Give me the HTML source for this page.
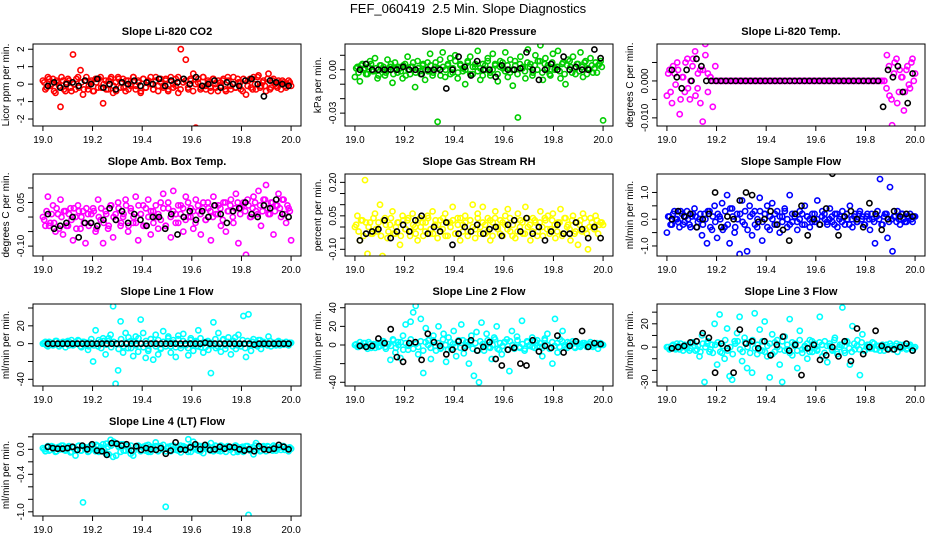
<!DOCTYPE html>
<html><head><meta charset="utf-8"><style>
html,body{margin:0;padding:0;background:#fff}
svg{display:block;font-family:"Liberation Sans",Arial,sans-serif}
</style></head><body>
<svg id="fig" width="936" height="540" viewBox="0 0 936 540">
<text x="468" y="13" text-anchor="middle" font-size="13">FEF_060419&#160; 2.5 Min. Slope Diagnostics</text>
</svg>
<script>
const xTicks=[19.0,19.2,19.4,19.6,19.8,20.0];
const xRange=[19.0,20.0];

const co2Main=[0.2,-0.3,0.4,-0.1,0.3,-0.5,0.1,-1.3,0.2,-0.4,0.3,-0.2,1.7,-0.3,0.4,0.8,-0.6,0.2,-0.3,0.1,-0.4,0.3,-0.2,0.4,-1.1,0.2,-0.3,0.3,-0.5,0.1,0.4,-0.2,0.3,-0.4,0.2,-0.1,0.4,-0.3,0.2,-0.5,0.3,-0.2,0.1,0.4,-0.3,0.2,-0.4,0.3,-0.1,0.2,-0.3,0.4,-0.2,0.3,-0.5,2.0,0.1,1.4,-0.3,0.2,0.6,-2.5,0.3,-0.2,0.4,-0.3,0.1,-0.4,0.3,-0.2,0.2,-0.1,0.3,-0.4,0.2,-0.3,0.4,-0.2,0.1,-0.3,0.3,-0.6,0.2,-0.2,0.4,-0.3,0.5,-0.1,0.2,-0.4,0.6,-0.2,0.3,-0.1,0.2,-0.3,0.1,-0.2,0.2,-0.1];
const co2Band=[0.1,-0.2,0.3,0.0,-0.4,0.2,-0.1,0.4,-0.3,0.1,0.2,-0.4,0.0,0.3,-0.2,0.1,-0.3,0.4,-0.1,0.2,-0.4,0.1,0.3,-0.2,0.0,-0.3,0.2,0.4,-0.1,-0.4,0.3,0.1,-0.2,0.2,-0.3,0.0,0.4,-0.1,0.1,-0.4,0.3,-0.2,0.2,0.0,-0.3,0.4,-0.1,0.1,-0.2,0.3,-0.4,0.2,0.0,-0.1,0.4,-0.3,0.1,0.2,-0.2,0.3,-0.4,0.0,0.1,-0.3,0.4,-0.1,0.2,-0.2,0.3,0.0,-0.4,0.1,0.2,-0.3,0.4,-0.1,0.0,-0.2,0.3,0.1,-0.4,0.2,-0.1,0.3,-0.3,0.0,0.4,-0.2,0.1,-0.1,0.3,-0.3,0.2,0.0,-0.2,0.1,0.2,-0.1,0.0,0.1];
const co2Ref=[-0.1,0.1,-0.2,0,0.1,-0.1,0.2,0,0.3,-0.2,0,-0.3,0.1,0,0.2,-0.1,0.1,0,0.3,-0.1,0.2,0.1,0.3,0,0.4,-0.1,0,0.2,-0.2,0.1,0,-0.1,0.2,0.3,0,-0.7,0.2,0.1,0,-0.1];

const presMain=[-0.005,0.002,-0.008,0.004,0.001,-0.003,0.006,-0.001,0.008,-0.006,0.003,0.000,-0.004,0.007,0.002,-0.009,0.005,-0.002,0.001,-0.006,0.004,0.009,-0.003,0.002,-0.012,0.006,-0.001,0.003,-0.007,0.005,0.011,-0.004,0.002,-0.036,0.007,0.012,-0.005,0.003,0.008,-0.002,0.010,-0.006,0.004,0.001,-0.010,0.006,0.009,-0.003,0.002,0.013,-0.007,0.004,0.000,0.008,-0.004,0.011,0.003,-0.008,0.006,0.001,0.012,-0.005,0.007,-0.011,0.003,-0.033,0.009,0.002,-0.006,0.014,0.004,-0.002,0.010,0.006,0.017,-0.007,0.008,0.003,-0.004,0.011,0.001,0.013,-0.006,0.005,-0.010,0.007,0.002,0.009,-0.003,0.004,0.012,-0.005,0.006,0.001,0.008,-0.002,0.005,0.003,0.006,-0.035];
const presBand=[0.001,-0.002,0.003,0.000,-0.003,0.002,0.004,-0.001,0.001,-0.004,0.003,0.002,-0.002,0.000,0.004,-0.003,0.001,0.002,-0.001,0.003,-0.004,0.000,0.002,0.005,-0.002,0.001,-0.003,0.004,0.000,-0.001,0.003,-0.002,0.005,0.001,-0.004,0.002,0.000,0.004,-0.003,0.001,0.006,-0.002,0.003,-0.001,0.000,0.005,-0.003,0.002,0.004,-0.001,0.001,-0.004,0.003,0.006,-0.002,0.000,0.004,-0.003,0.002,0.005,-0.001,0.003,-0.002,0.000,0.006,-0.003,0.004,0.001,-0.001,0.005,0.002,-0.004,0.003,0.000,0.006,-0.002,0.004,0.001,-0.003,0.005,0.000,0.002,-0.001,0.004,-0.003,0.003,0.006,-0.002,0.001,0.004,-0.001,0.002,0.005,-0.003,0.000,0.003,0.001,-0.002,0.004,0.002];
const presRef=[0,0.004,0,0,0,0,0,0.002,0,0,-0.003,0,0,0,-0.013,0,0.009,0.002,-0.004,0.006,0,0,-0.005,0.003,0,0,0.001,0.012,0,-0.007,0,0.004,0,0.009,0,0.002,0,0,0.014,0.008];

const tempMain=[-0.004,0.003,-0.006,0.002,0.005,-0.009,0.001,-0.003,0.006,-0.005,0.004,0.008,-0.002,0.003,-0.011,0.010,0.002,0.001,
0,0,0,0,0,0,0,0,0,0,0,0,0,0,0,0,0,0,0,0,0,0,0,0,0,0,0,0,0,0,0,0,0,0,0,0,0,0,0,0,0,0,0,0,0,0,0,0,0,0,0,0,0,0,0,0,0,0,0,0,0,0,0,0,0,0,0,0,
0.007,-0.004,-0.012,0.005,-0.006,0.003,0.001,-0.003,0.004,-0.002,0.006,0.002];
const tempBand=[0.002,-0.003,0.004,-0.001,0.003,-0.005,0.001,0.005,-0.002,0.000,0.006,-0.004,0.002,-0.006,0.003,0.007,-0.003,0.001,-0.007,0.004,0,0,0,0,0,0,0,0,0,0,0,0,0,0,0,0,0,0,0,0,0,0,0,0,0,0,0,0,0,0,0,0,0,0,0,0,0,0,0,0,0,0,0,0,0,0,0,0,0,0,0,0,0,0,0,0,0,0,0,0,0,0,0,0,0,0,0,0,-0.002,0.004,-0.005,0.002,0.006,-0.003,0.001,-0.008,0.003,-0.001,0.005,0.000];
const tempRef=[0.003,0.001,-0.002,0.003,0.000,0.006,0.004,0.000,0,0,0,0,0,0,0,0,0,0,0,0,0,0,0,0,0,0,0,0,0,0,0,0,0,0,0,0,0,0,0,0,0,0,0,-0.007,0.003,0.001,0.004,-0.003,-0.006,0.002];

const ambMain=[0.00,-0.03,0.07,-0.02,0.04,-0.05,0.01,0.06,-0.06,0.02,-0.03,0.03,-0.08,0.00,0.04,-0.04,0.02,-0.09,0.01,-0.02,0.03,-0.05,0.06,-0.01,-0.09,0.02,-0.04,0.04,-0.07,0.01,0.05,-0.03,0.00,0.06,-0.05,0.03,-0.02,0.07,-0.08,0.01,0.04,-0.03,0.06,-0.06,0.02,0.00,-0.04,0.05,0.08,-0.03,0.03,-0.07,0.09,0.01,-0.02,0.04,-0.05,0.07,0.00,0.03,-0.04,0.06,0.02,-0.06,0.05,-0.01,0.03,-0.08,0.07,0.01,0.04,-0.03,0.05,-0.05,0.02,0.06,-0.02,0.08,-0.09,0.03,0.05,-0.13,0.04,0.00,0.07,0.02,0.09,-0.03,0.06,0.11,0.01,0.05,-0.06,0.04,0.08,0.00,0.06,-0.02,0.03,-0.08];
const ambBand=[-0.01,0.02,-0.03,0.01,-0.02,0.03,-0.04,0.00,0.02,-0.03,0.01,-0.01,0.03,-0.04,0.02,0.00,-0.02,0.03,-0.03,0.01,0.02,-0.04,0.00,0.03,-0.02,0.01,-0.03,0.04,0.00,-0.01,0.03,-0.02,0.01,0.04,-0.03,0.02,0.00,-0.02,0.04,0.01,-0.03,0.03,0.00,0.02,-0.02,0.04,0.01,-0.01,0.03,-0.03,0.05,0.00,0.02,-0.02,0.04,0.01,0.03,-0.01,0.05,0.00,0.02,-0.02,0.04,0.01,0.03,-0.01,0.05,0.02,0.00,0.04,0.01,0.03,-0.01,0.05,0.02,0.04,0.00,0.03,0.05,0.01,0.04,0.02,0.06,0.00,0.03,0.05,0.01,0.04,0.02,0.06,0.03,0.01,0.05,0.02,0.04,0.03,0.06,0.01,0.04,0.02];
const ambRef=[0.01,-0.04,-0.03,-0.02,0.00,-0.07,-0.02,-0.02,-0.03,-0.01,0.03,-0.01,0.02,-0.02,0.01,-0.01,-0.03,0.00,0.00,-0.04,0.01,-0.06,0.00,0.02,-0.01,0.02,0.00,0.04,0.01,-0.02,0.02,0.03,0.05,0.01,0.00,0.04,0.03,0.06,0.01,0.00];

const rhMain=[0.00,0.05,-0.06,0.03,0.21,-0.12,0.02,-0.03,0.06,-0.02,0.10,-0.13,0.04,-0.05,0.01,0.07,-0.03,0.02,-0.08,0.05,-0.01,0.03,-0.04,0.06,0.00,-0.06,0.04,0.02,-0.02,0.05,-0.03,0.07,0.01,-0.05,0.03,-0.01,0.06,-0.04,0.02,0.09,-0.03,0.04,-0.06,0.01,0.05,-0.02,0.03,0.10,-0.05,0.06,0.00,0.09,-0.03,0.04,-0.06,0.02,0.07,-0.01,0.03,-0.04,0.05,0.08,-0.02,0.01,-0.05,0.06,0.03,-0.03,0.09,0.00,-0.06,0.04,0.02,-0.02,0.07,-0.04,0.03,0.05,-0.01,0.06,-0.05,0.02,0.08,-0.03,0.04,0.01,-0.06,0.05,-0.02,-0.08,0.03,0.06,-0.01,-0.10,0.04,0.00,0.05,-0.03,0.02,0.01];
const rhBand=[0.01,-0.02,0.03,-0.04,0.02,0.00,-0.03,0.04,-0.01,0.02,-0.04,0.03,0.01,-0.02,0.04,-0.03,0.00,0.02,-0.04,0.03,-0.01,0.04,-0.02,0.01,-0.03,0.03,0.00,-0.04,0.02,0.04,-0.01,-0.03,0.03,0.01,-0.02,0.04,-0.04,0.02,0.00,0.03,-0.03,0.01,0.04,-0.02,0.02,-0.04,0.03,0.00,-0.01,0.04,-0.03,0.02,0.01,-0.02,0.03,-0.04,0.04,0.00,-0.03,0.02,0.01,-0.01,0.04,-0.04,0.03,-0.02,0.00,0.02,-0.03,0.04,0.01,-0.02,0.03,-0.04,0.02,0.00,0.04,-0.01,-0.03,0.03,0.01,-0.02,0.02,-0.04,0.04,0.00,-0.01,0.03,-0.03,0.02,0.01,-0.02,0.04,-0.03,0.00,0.02,-0.01,0.03,0.01,0.02];
const rhRef=[-0.06,-0.03,-0.02,-0.01,0.03,-0.05,-0.02,0.01,-0.02,0.03,0.05,-0.03,0.00,-0.02,0.02,-0.08,-0.03,0.00,-0.02,0.01,-0.03,-0.01,0.00,-0.04,0.01,0.03,-0.02,0.04,-0.03,0.00,-0.06,-0.02,0.01,-0.03,-0.03,0.02,-0.01,-0.05,0.00,-0.05];

const flowMain=[-0.5,0.1,-0.2,0.3,0.0,-0.3,0.2,-0.1,0.3,-0.2,0.1,0.4,-0.3,0.0,-0.6,0.2,-0.9,0.3,-0.4,0.5,-0.7,0.1,0.6,-0.3,0.9,-0.9,0.4,-0.5,0.2,-1.3,0.7,-0.2,-1.2,0.5,-0.6,0.3,-0.3,0.8,-0.8,0.2,0.5,-0.4,0.6,-0.2,0.3,-0.5,0.1,0.4,-0.3,0.9,-0.1,0.2,-0.4,0.3,-0.2,0.5,0.1,-0.3,0.2,-0.1,0.7,-0.2,0.3,0.0,-0.2,0.4,-0.1,0.2,-0.3,0.1,0.3,-0.2,0.0,0.5,-0.3,0.2,-0.1,0.3,0.1,-0.2,0.2,-0.4,0.0,-0.9,0.3,1.5,-0.2,0.2,-0.7,1.2,-1.2,0.1,0.3,-0.2,0.2,-0.1,0.1,0.2,-0.1,0.1];
const flowBand=[0.1,-0.2,0.2,0.0,-0.1,0.3,-0.2,0.1,0.0,-0.3,0.2,0.1,-0.1,0.2,-0.2,0.0,0.3,-0.3,0.1,-0.1,0.2,0.0,-0.4,0.3,-0.2,0.4,0.1,-0.3,0.0,0.2,-0.1,0.3,-0.4,0.1,0.2,-0.2,0.0,0.3,-0.1,0.2,-0.3,0.1,0.0,0.2,-0.2,0.1,-0.1,0.3,0.0,-0.2,0.2,0.1,-0.1,0.0,0.2,-0.2,0.1,0.0,-0.1,0.2,0.0,-0.2,0.1,0.2,-0.1,0.0,0.1,-0.2,0.2,0.0,-0.1,0.1,0.2,-0.2,0.0,0.1,-0.1,0.2,0.0,-0.2,0.1,0.0,0.2,-0.1,0.1,0.0,-0.2,0.1,0.2,-0.1,0.0,0.1,-0.1,0.0,0.2,0.0,-0.1,0.1,0.0,0.1];
const flowRef=[0.0,0.3,0.1,0.2,-0.3,0.0,0.2,1.0,-0.3,0.1,0.0,0.7,1.0,0.9,-0.1,0.0,0.3,-0.2,-0.4,-0.8,0.2,0.5,-0.6,0.0,-0.2,0.4,1.7,-0.6,0.1,0.3,0.0,-0.3,0.6,0.2,-0.4,0.0,0.3,0.1,0.2,0.1];

const l1Main=[0,2,-3,1,-2,3,0,-1,2,-4,3,1,-2,0,4,-3,2,-1,-7,1,-20,15,-3,2,6,-12,3,10,42,-45,-30,25,-10,12,-5,3,-14,8,-9,27,12,-16,-8,5,-18,10,-12,-6,14,-3,8,-10,4,-15,9,-5,11,-2,-13,6,-8,3,15,-4,-10,2,-7,-33,24,-5,12,-9,5,-2,7,-12,3,-6,10,-3,31,-15,33,-8,5,-2,4,-6,2,-1,8,-3,1,-2,3,0,-1,2,-2,1];
const l1Band=[1,-2,2,0,-1,3,-3,1,0,2,-2,4,-1,0,3,-4,2,1,-3,5,-2,0,4,-5,3,-1,6,-4,2,0,-6,5,-3,1,7,-5,2,-2,6,0,-4,3,-6,5,1,-3,4,-5,2,0,6,-3,1,-4,5,-2,3,0,-5,4,-1,2,-3,6,0,-4,3,1,-2,5,-3,0,4,-6,2,1,-3,7,-2,0,4,-5,3,-1,2,0,-3,4,-1,1,-2,3,0,-1,2,-2,1,0,-1,1];
const l1Ref=[0,0,0,0,0,0,0,0,0,0,0,0,0,0,0,0,0,0,0,0,0,0,0,0,0,0,0,0,0,0,0,0,1,0,0,0,0,0,0,0,0,0,-1,0,0,0,0,0,0,0];

const l2Main=[0,-2,3,-1,2,-4,1,0,-3,2,-1,4,-2,1,-16,6,-8,3,-14,10,22,-5,25,35,42,-10,28,-30,18,5,-15,10,-6,20,-3,12,-18,8,-4,15,-12,5,22,-9,3,-20,10,-33,14,-40,24,-6,12,-2,-15,8,20,-5,-10,3,6,-28,15,-4,9,-2,26,-6,4,-1,8,-3,5,-2,-12,7,12,-4,-20,28,-8,6,15,-2,3,-1,4,-3,1,-2,2,0,-1,3,-2,1,-4,2,0];
const l2Band=[1,-2,0,2,-1,3,-3,1,0,-2,2,4,-4,1,-1,5,-3,0,3,-5,2,-1,6,-4,1,-2,4,-6,3,0,-3,5,-1,2,-4,6,0,-5,3,1,-2,4,-3,5,-1,0,3,-4,2,-6,4,1,-2,5,-3,0,6,-4,2,-1,3,-5,4,0,-2,5,-3,1,-4,3,0,-2,4,-1,2,-3,5,0,-4,3,-1,2,-2,4,0,-3,2,1,-2,3,-1,0,2,-2,1,0,-1,2,0,1];
const l2Ref=[-1,-2,-1,7,2,17,-13,-18,2,3,-16,12,3,-1,-10,-5,4,-3,5,-6,-2,3,-15,-22,-5,-3,-20,-22,5,-7,-1,-3,10,-8,-1,4,15,-2,2,1];

const l3Main=[0,-2,1,-1,3,-2,0,2,-1,-3,4,1,-2,-8,10,-30,3,-4,2,20,-15,28,-5,-10,16,-25,-28,5,12,26,-12,8,-18,4,-22,29,-6,15,-3,22,-8,-26,11,-4,6,-15,-30,9,-2,24,-7,3,-18,14,-5,1,-10,6,-4,3,-2,26,-8,5,-13,1,-3,8,-6,2,34,-5,4,-15,18,-2,6,-24,11,-3,2,-1,4,-2,1,-3,2,0,-1,3,-2,1,-4,2,0,1,-1,2,-3,0];
const l3Band=[0,-1,2,-2,1,3,-3,0,2,-1,4,-3,1,-4,3,0,5,-2,-5,2,4,-4,1,6,-3,0,-6,3,5,-2,-4,4,0,-5,6,-1,2,-3,5,-4,1,3,-6,4,0,-2,5,-3,2,-5,4,1,-3,6,-2,0,3,-4,5,-1,-3,4,2,-5,1,3,-2,6,-4,0,2,-3,5,-1,-4,3,1,-2,4,-3,0,2,-1,3,-2,1,0,-3,2,-1,1,-2,3,0,-1,2,-2,1,0,-1];
const l3Ref=[-1,0,1,4,5,12,8,-22,3,-1,-22,15,3,5,-1,5,-7,2,9,-3,2,-24,-1,2,-11,-7,0,-8,5,-12,16,-6,0,14,1,-2,-2,0,3,-3];

const l4Main=[0.02,-0.03,0.05,-0.01,0.04,-0.04,0.03,0.00,0.06,-0.02,0.04,-0.05,0.02,-0.10,0.05,-0.02,-0.85,0.03,-0.04,0.06,0.01,-0.03,0.05,-0.02,0.08,-0.06,0.04,0.15,-0.12,0.10,0.06,-0.04,0.08,-0.02,0.05,-0.07,-0.10,0.03,0.06,-0.03,0.04,-0.02,0.07,-0.04,0.02,0.11,-0.03,0.05,0.00,-0.92,0.04,-0.03,0.06,-0.01,0.03,-0.05,0.05,0.02,0.16,-0.04,0.12,0.03,-0.02,0.05,-0.06,0.04,0.01,0.10,-0.03,0.05,-0.02,0.06,0.00,-0.04,0.04,0.02,-0.05,0.06,-0.02,0.03,-0.04,0.05,-1.05,0.01,-0.08,0.10,0.03,-0.02,0.05,-0.03,0.04,0.00,0.06,-0.02,0.03,-0.01,0.05,0.02,-0.03,0.01];
const l4Band=[0.00,0.03,-0.02,0.05,0.01,-0.03,0.04,0.06,-0.01,0.02,0.05,-0.04,0.03,0.00,0.06,-0.02,0.04,0.01,-0.03,0.05,0.02,0.07,-0.04,0.03,0.00,0.09,-0.08,0.06,0.12,-0.10,0.04,0.08,-0.02,0.05,0.00,0.06,-0.03,0.03,0.05,-0.01,0.02,0.06,-0.04,0.04,0.01,0.05,-0.02,0.03,0.07,-0.03,0.02,0.05,0.00,0.04,-0.02,0.06,0.01,0.03,-0.04,0.05,0.02,0.00,0.06,-0.03,0.04,0.01,0.05,-0.02,0.03,0.06,0.00,-0.03,0.04,0.02,0.05,-0.01,0.03,0.06,-0.04,0.02,0.04,0.00,0.05,-0.02,0.03,0.06,0.01,-0.03,0.04,0.02,0.05,0.00,-0.02,0.04,0.01,0.03,0.05,-0.01,0.02,0.03];
const l4Ref=[0.04,0.02,0.01,0.01,0.02,0.04,-0.01,0.06,0.00,0.08,-0.02,-0.03,-0.09,0.10,0.09,0.06,0.08,-0.02,0.05,-0.01,0.02,0.00,-0.01,0.02,-0.07,-0.02,0.11,0.00,-0.01,0.03,0.08,0.00,0.07,-0.01,0.00,0.04,0.01,0.04,0.03,0.00,-0.02,0.00,-0.03,0.05,0.00,-0.01,0.01,0.07,0.04,0.00];

const panelTitles=["Slope Li-820 CO2","Slope Li-820 Pressure","Slope Li-820 Temp.","Slope Amb. Box Temp.","Slope Gas Stream RH","Slope Sample Flow","Slope Line 1 Flow","Slope Line 2 Flow","Slope Line 3 Flow","Slope Line 4 (LT) Flow"];
const yTitles=["Licor ppm per min.","kPa per min.","degrees C per min.","degrees C per min.","percent per min.","ml/min per min.","ml/min per min.","ml/min per min.","ml/min per min.","ml/min per min."];
const yRanges=[[-2.4,2.3],[-0.0389,0.0178],[-0.0122,0.010],[-0.134,0.148],[-0.13,0.2375],[-1.375,1.69],[-47.5,44.5],[-44,44],[-33.4,37],[-1.067,0.245]];
const yTicks=[[-2,-1,0,1,2],[-0.03,-0.02,-0.01,0,0.01],[-0.010,-0.005,0,0.005],[-0.10,-0.05,0,0.05,0.10],[-0.10,-0.05,0,0.05,0.10,0.15,0.20],[-1,-0.5,0,0.5,1],[-40,-20,0,20,40],[-40,-20,0,20,40],[-30,-20,-10,0,10,20,30],[-1.0,-0.8,-0.6,-0.4,-0.2,0,0.2]];
const yLabels=[["-2","-1","0","1","2"],["-0.03","","","0.00",""],["-0.010","","0.000",""],["-0.10","","","0.05",""],["-0.10","","","0.05","","","0.20"],["-1.0","","0.0","","1.0"],["-40","","0","20",""],["-40","","0","20","40"],["-30","","","0","","20",""],["-1.0","","","-0.4","","0.0",""]];
const mainSeries=[co2Main,presMain,tempMain,ambMain,rhMain,flowMain,l1Main,l2Main,l3Main,l4Main];
const bandSeries=[co2Band,presBand,tempBand,ambBand,rhBand,flowBand,l1Band,l2Band,l3Band,l4Band];
const refSeries=[co2Ref,presRef,tempRef,ambRef,rhRef,flowRef,l1Ref,l2Ref,l3Ref,l4Ref];
const colors=["#ff0000","#00cd00","#ff00ff","#ff00ff","#ffff00","#0000ff","#00ffff","#00ffff","#00ffff","#00ffff"];

const NS="http://www.w3.org/2000/svg";
const svg=document.getElementById('fig');
function mk(tag,attrs,parent){const e=document.createElementNS(NS,tag);for(const k in attrs)e.setAttribute(k,attrs[k]);parent.appendChild(e);return e;}

for(let p=0;p<10;p++){
  const col=p%3,row=Math.floor(p/3);
  const L=33+312*col,R=L+268,T=44+130*row,B=T+82;
  const g=mk('g',{},svg);
  
  
  const w=R-L,pad=w*0.04/1.08;
  const sx=v=>L+pad+(v-xRange[0])/(xRange[1]-xRange[0])*(w-2*pad);
  const yr=yRanges[p];
  const sy=v=>B-(v-yr[0])/(yr[1]-yr[0])*(B-T);
  const t=mk('text',{x:(L+R)/2,y:T-9,'text-anchor':'middle','font-size':'11','font-weight':'bold'},g);
  t.textContent=panelTitles[p];
  
  
  const cp=mk('clipPath',{id:'c'+p},g);mk('rect',{x:L,y:T,width:w,height:B-T},cp);
  const pts=mk('g',{'clip-path':'url(#c'+p+')',fill:'none','stroke-width':'1.6'},g);
  const drawSeries=(arr,color,name,off,span)=>{
    const sg=mk('g',{stroke:color},pts);
    
    
    const n=arr.length;
    arr.forEach((v,i)=>{
      const xv=xRange[0]+(xRange[1]-xRange[0])*(off+span*i/(n-1));
      const c=mk('circle',{cx:sx(xv).toFixed(1),cy:sy(v).toFixed(1),r:2.6},sg);
      
      
    });
  };
  drawSeries(mainSeries[p],colors[p],'main-series',0,1);
  drawSeries(bandSeries[p],colors[p],'main-series-band',0.005,0.99);
  drawSeries(refSeries[p],'#000','ref-series',0.02,0.97);
  const box=mk('rect',{x:L,y:T,width:w,height:B-T,fill:'none',stroke:'#000','stroke-width':'1'},g);
  
  
  const xa=mk('g',{stroke:'#000'},g);
  
  
  mk('line',{x1:sx(xTicks[0]),x2:sx(xTicks[xTicks.length-1]),y1:B,y2:B},xa);
  xTicks.forEach(v=>{
    mk('line',{x1:sx(v),x2:sx(v),y1:B,y2:B+5},xa);
    const tl=mk('text',{x:sx(v),y:B+17,'text-anchor':'middle','font-size':'10',stroke:'none'},xa);
    tl.textContent=v.toFixed(1);
    
    
  });
  const ya=mk('g',{stroke:'#000'},g);
  
  
  const yt=yTicks[p];
  mk('line',{x1:L,x2:L,y1:sy(yt[0]),y2:sy(yt[yt.length-1])},ya);
  yt.forEach((v,i)=>{
    mk('line',{x1:L-5,x2:L,y1:sy(v),y2:sy(v)},ya);
    if(yLabels[p][i]){
      const yy=sy(v);
      const tl=mk('text',{x:L-9,y:yy,'text-anchor':'middle','font-size':'10',stroke:'none',transform:'rotate(-90 '+(L-9)+' '+yy+')'},ya);
      tl.textContent=yLabels[p][i];
      
      
    }
  });
  const ytx=L-24,yty=(T+B)/2;
  const ytt=mk('text',{x:ytx,y:yty,'text-anchor':'middle','font-size':'10',transform:'rotate(-90 '+ytx+' '+yty+')'},g);
  ytt.textContent=yTitles[p];
  
  
}
</script>
</body></html>
